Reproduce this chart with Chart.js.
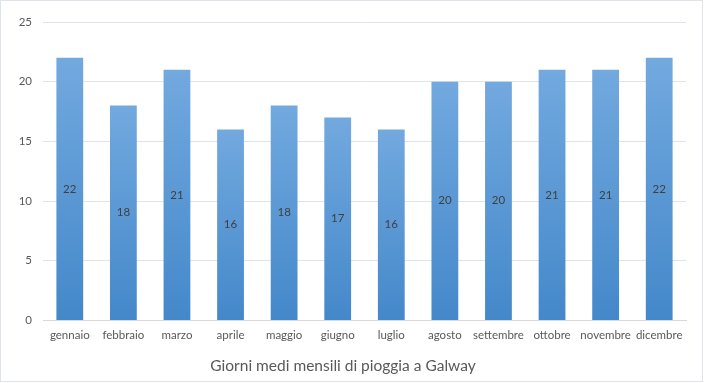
<!DOCTYPE html>
<html>
<head>
<meta charset="utf-8">
<script src="https://cdn.jsdelivr.net/npm/chart.js@4/dist/chart.umd.min.js"></script>
<style>
html,body{margin:0;padding:0;background:#fff;}
#wrap{width:704px;height:383px;position:relative;}
</style>
</head>
<body>
<div id="wrap"><canvas id="c" width="704" height="383"></canvas></div>
<script>
const months = ["gennaio","febbraio","marzo","aprile","maggio","giugno","luglio","agosto","settembre","ottobre","novembre","dicembre"];
const rainyDays = [22,18,21,16,18,17,16,20,20,21,21,22];
const yTicks = [0,5,10,15,20,25];
const chartTitle = "Giorni medi mensili di pioggia a Galway";

const FONT = "Lato, 'Open Sans', sans-serif";
const TXT = "#595959";

function barGradient(ctx) {
  const chart = ctx.chart;
  const ys = chart.scales && chart.scales.y;
  if (!chart.chartArea || !ys || ctx.dataIndex === undefined) return "#5b9bd5";
  const v = ctx.dataset.data[ctx.dataIndex];
  const top = ys.getPixelForValue(v);
  const base = ys.getPixelForValue(0);
  if (!isFinite(top) || !isFinite(base) || top === base) return "#5b9bd5";
  const g = chart.ctx.createLinearGradient(0, top, 0, base);
  g.addColorStop(0, "#72a9df");
  g.addColorStop(1, "#4488ca");
  return g;
}

const borderPlugin = {
  id: "outerBorder",
  afterDraw(chart) {
    const c = chart.ctx;
    c.save();
    c.strokeStyle = "#dfe4ea";
    c.lineWidth = 1;
    c.strokeRect(0.5, 0.5, 702, 381);
    c.restore();
  }
};

const labelPlugin = {
  id: "centerLabels",
  afterDatasetsDraw(chart) {
    const c = chart.ctx;
    const meta = chart.getDatasetMeta(0);
    c.save();
    c.font = "11.5px " + FONT;
    c.fillStyle = "#404040";
    c.textAlign = "center";
    c.textBaseline = "middle";
    meta.data.forEach((el, i) => {
      c.fillText(String(rainyDays[i]), el.x, (el.y + el.base) / 2);
    });
    c.restore();
  }
};

new Chart(document.getElementById("c"), {
  type: "bar",
  data: {
    labels: months,
    datasets: [{
      data: rainyDays,
      backgroundColor: barGradient,
      borderWidth: 0,
      categoryPercentage: 1.0,
      barPercentage: 0.5
    }]
  },
  options: {
    responsive: false,
    animation: false,
    events: [],
    layout: { padding: { left: 0, right: 18, top: 22, bottom: 3 } },
    plugins: {
      legend: { display: false },
      tooltip: { enabled: false },
      title: {
        display: true,
        text: chartTitle,
        position: "bottom",
        color: TXT,
        font: { family: FONT, size: 15.5, weight: "normal" },
        padding: { top: 8, bottom: 5 }
      }
    },
    scales: {
      x: {
        grid: { display: false, drawTicks: false },
        border: { display: true, color: "#d9d9d9" },
        ticks: { color: TXT, font: { family: FONT, size: 11.5 }, padding: 8, maxRotation: 0, autoSkip: false },
        afterFit(s) { s.height = 28; }
      },
      y: {
        min: 0, max: 25,
        afterBuildTicks(s) { s.ticks = yTicks.map(v => ({ value: v })); },
        grid: { color: "#dfe4ea", drawTicks: false },
        border: { display: false },
        ticks: { color: TXT, font: { family: FONT, size: 11.5 }, padding: 11 },
        afterFit(s) { s.width = 43; }
      }
    }
  },
  plugins: [borderPlugin, labelPlugin]
});
</script>
</body>
</html>
